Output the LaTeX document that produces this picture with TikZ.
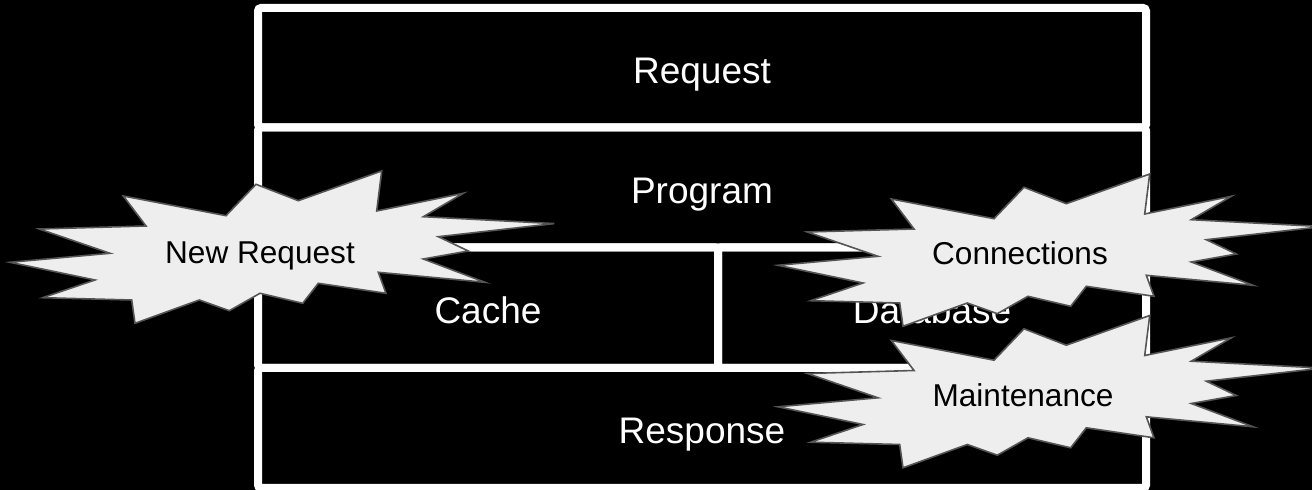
\documentclass[tikz,border=0pt]{standalone}
\usepackage{fontspec}
\setmainfont{Liberation Sans}
\definecolor{starfill}{HTML}{EEEEEE}
\definecolor{stardraw}{HTML}{555555}
\tikzset{
  cell/.style={draw=white, line width=4pt, rounded corners=1.5pt, inner sep=0pt},
  celltext/.style={text=white, font=\fontsize{18.5}{22}\selectfont, anchor=base, inner sep=0pt},
  burst/.style={fill=starfill, draw=stardraw, line width=0.8pt, line join=miter},
  bursttext/.style={text=black, font=\fontsize{15.8}{19}\selectfont, anchor=base, inner sep=0pt},
}
\newcommand{\burstshape}{(10,262.3) -- (110,253.3) -- (39.3,229) -- (146,226) -- (123.3,196) -- (226,215.7) -- (256,184.3) -- (298.3,200.7) -- (381.7,171) -- (376.7,211) -- (463.3,193.3) -- (423.3,216.7) -- (554.3,223.6) -- (438.3,236.7) -- (468.3,251) -- (423.3,259) -- (485,282.3) -- (378.3,272.3) -- (386,293.3) -- (318.3,283.3) -- (302.7,303.3) -- (260,293.3) -- (229.3,310.7) -- (199.3,300) -- (135,323.3) -- (131.7,300) -- (42.7,297.7) -- (95,280) -- cycle}
\begin{document}
\begin{tikzpicture}[x=0.5pt, y=-0.5pt]
\fill[black] (0,0) rectangle (1312,490);
\useasboundingbox (0,0) rectangle (1312,490);
% cells
\node[cell, minimum width=444pt, minimum height=59.75pt] (req) at (702,67.75) {};
\node[cell, minimum width=444pt, minimum height=60pt] (prog) at (702,187.5) {};
\node[cell, minimum width=230pt, minimum height=60.25pt] (cache) at (488,307.75) {};
\node[cell, minimum width=214pt, minimum height=60.25pt] (db) at (932,307.75) {};
\node[cell, minimum width=444pt, minimum height=60pt] (resp) at (702,428) {};
% cell texts
\node[celltext] (treq) at (702,83.3) {Request};
\node[celltext] (tprog) at (702,203.3) {Program};
\node[celltext] (tcache) at (488,323.3) {Cache};
\node[celltext] (tdb) at (932,323.3) {Database};
\node[celltext] (tresp) at (702,443.3) {Response};
% bursts
\path[burst] \burstshape;
\node[bursttext] (newreq) at (260,263.3) {New Request};
\begin{scope}[shift={(768,3)}]
\path[burst] \burstshape;
\end{scope}
\node[bursttext] (conn) at (1020,264.5) {Connections};
\begin{scope}[shift={(768,144.5)}]
\path[burst] \burstshape;
\end{scope}
\node[bursttext] (maint) at (1023,406.5) {Maintenance};
\end{tikzpicture}
\end{document}
